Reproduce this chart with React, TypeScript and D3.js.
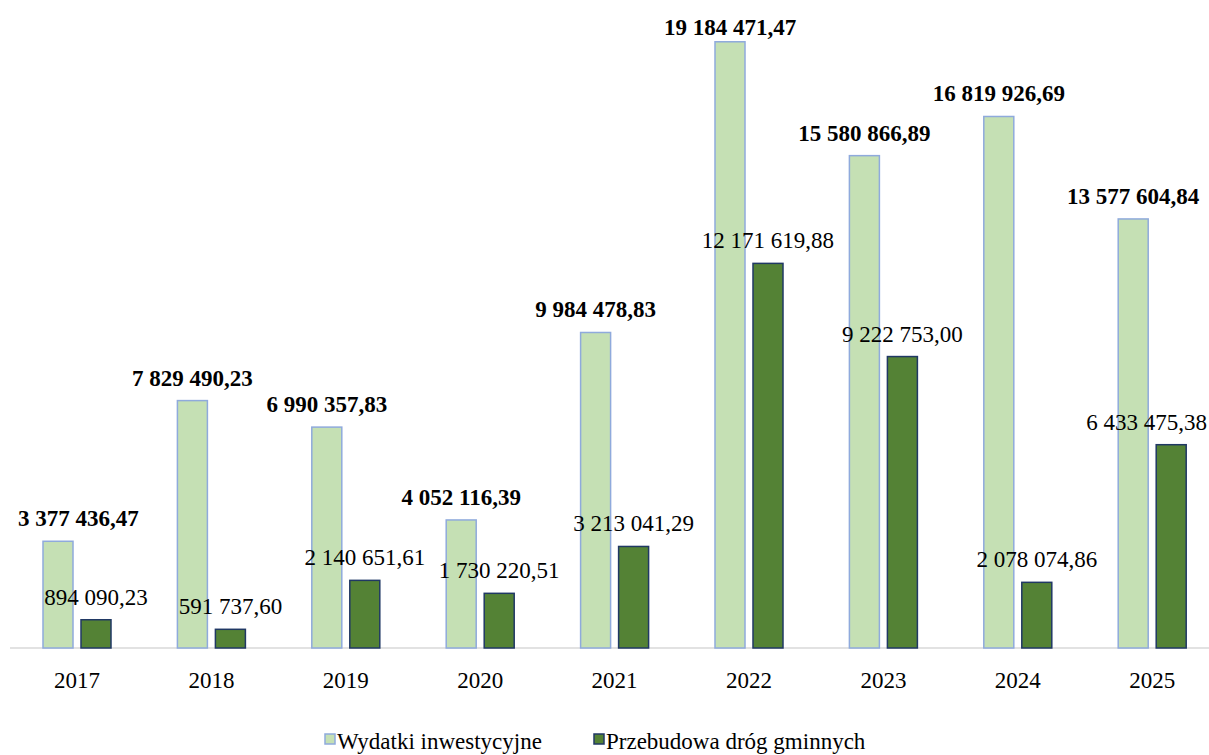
import React from "react";
import * as d3 from "d3";

const years = ["2017", "2018", "2019", "2020", "2021", "2022", "2023", "2024", "2025"];
const investment = [3377436.47, 7829490.23, 6990357.83, 4052116.39, 9984478.83, 19184471.47, 15580866.89, 16819926.69, 13577604.84];
const roads = [894090.23, 591737.6, 2140651.61, 1730220.51, 3213041.29, 12171619.88, 9222753.0, 2078074.86, 6433475.38];
const seriesNames = ["Wydatki inwestycyjne", "Przebudowa dróg gminnych"];

const W = 1209;
const H = 755;
const FONT = "Liberation Serif, Times New Roman, Times, serif";
const FS = 23;

const pl = d3.formatLocale({ decimal: ",", thousands: " ", grouping: [3], currency: ["", ""] });
const fmt = pl.format(",.2f");

export default function App() {
  const x0 = d3.scaleBand<string>().domain(years).range([9.8, 1219.4]).padding(0);
  const groupW = 68;
  const x1 = d3.scaleBand<string>().domain(["a", "b"]).range([0, groupW]).paddingInner(0.2105).paddingOuter(0);
  const y = d3.scaleLinear().domain([0, 20000000]).range([648, 16]);
  const base = y(0);
  const bw = x1.bandwidth();

  const gx = (yr: string) => (x0(yr) as number) + x0.bandwidth() / 2 - groupW / 2;

  const clampX = (cx: number, s: string) => {
    const w = (s.replace(/[ ,]/g, "").length * 0.5 + (s.match(/[ ,]/g) || []).length * 0.25) * FS;
    let left = cx - w / 2;
    if (left < 18) left = 18;
    if (left + w > 1207) left = 1207 - w;
    return left + w / 2;
  };

  return (
    <svg width={W} height={H} style={{ position: "absolute", left: 0, top: 0, background: "#fff", fontFamily: FONT }}>
      <line x1={10} x2={W} y1={base} y2={base} stroke="#d9d9d9" strokeWidth={1.5} />
      {years.map((yr, i) => {
        const g = gx(yr);
        const lx = g + (x1("a") as number);
        const dx = g + (x1("b") as number);
        const ly = y(investment[i]);
        const dy = y(roads[i]);
        const ls = fmt(investment[i]);
        const ds = fmt(roads[i]);
        return (
          <g key={yr}>
            <rect x={lx} y={ly} width={bw} height={base - ly} fill="#c5e0b4" stroke="#8faadc" strokeWidth={1.5} />
            <rect x={dx} y={dy} width={bw} height={base - dy} fill="#548235" stroke="#203864" strokeWidth={1.5} />
            <text x={clampX(lx + bw / 2, ls)} y={Math.max(ly - 15, 35)} textAnchor="middle" fontSize={FS} fontWeight="bold" fill="#000">{ls}</text>
            <text x={clampX(dx + bw / 2, ds)} y={dy - 15} textAnchor="middle" fontSize={FS} fill="#000">{ds}</text>
            <text x={g + groupW / 2} y={688} textAnchor="middle" fontSize={FS} fill="#000">{yr}</text>
          </g>
        );
      })}
      <g>
        <rect x={325} y={734} width={10} height={10} fill="#c5e0b4" stroke="#8faadc" strokeWidth={1.5} />
        <text x={337} y={749} fontSize={FS} fill="#000">{seriesNames[0]}</text>
        <rect x={594} y={734} width={10} height={10} fill="#548235" stroke="#203864" strokeWidth={1.5} />
        <text x={606} y={749} fontSize={FS} fill="#000">{seriesNames[1]}</text>
      </g>
    </svg>
  );
}
